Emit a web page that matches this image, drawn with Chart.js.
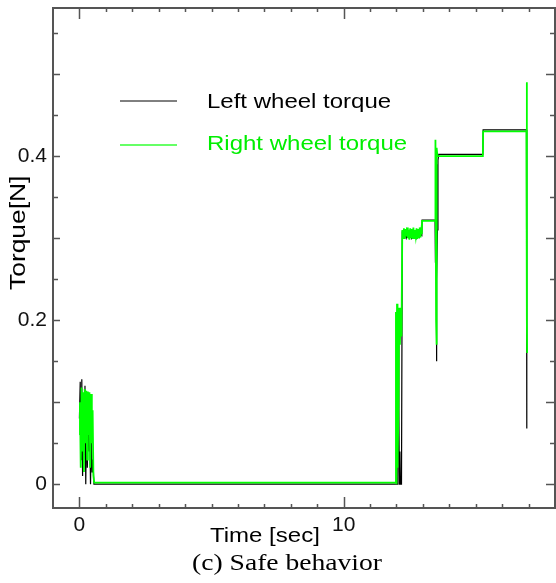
<!DOCTYPE html>
<html>
<head>
<meta charset="utf-8">
<script src="https://cdn.jsdelivr.net/npm/chart.js@4.4.1/dist/chart.umd.min.js"></script>
<style>
  body { margin: 0; background: #fff; }
  canvas { display: block; }
</style>
</head>
<body>
<canvas id="torqueChart" width="556" height="583"></canvas>
<script>
// values (time in sec, torque in N)
const timeLeft = [
  0.00, 0.03, 0.06, 0.09, 0.12, 0.15, 0.18, 0.21, 0.24, 0.27, 0.30, 0.33, 0.36, 0.39, 0.42, 0.45, 0.48, 0.51, 0.55,
  1.5, 3.0, 4.5, 6.0, 7.5, 9.0, 10.5, 11.98,
  12.05, 12.07, 12.09, 12.11, 12.13, 12.15, 12.19, 12.22,
  12.27, 12.32, 12.37, 12.42, 12.47, 12.52, 12.57, 12.62, 12.67, 12.72, 12.77, 12.82, 12.87, 12.92,
  12.96, 12.97, 13.46, 13.47, 13.48, 13.50, 13.51, 13.52, 13.53, 13.55, 13.57, 13.60, 15.27, 15.28, 16.92, 16.93, 16.935
];
const torqueLeft = [
  0.08, 0.125, 0.03, 0.128, 0.01, 0.11, 0.05, 0.12, 0.0, 0.09, 0.02, 0.10, 0.04, 0.07, 0.0, 0.06, 0.015, 0.03, 0.0,
  0, 0, 0, 0, 0, 0, 0, 0,
  0.0, 0.18, 0.09, 0.0, 0.04, 0.0, 0.0, 0.305,
  0.301, 0.306, 0.300, 0.305, 0.301, 0.306, 0.300, 0.305, 0.301, 0.306, 0.300, 0.305, 0.301, 0.304,
  0.303, 0.322, 0.322, 0.27, 0.29, 0.39, 0.20, 0.15, 0.25, 0.31, 0.395, 0.402, 0.402, 0.432, 0.432, 0.16, 0.068
];
const timeRight = [
  0.00, 0.02, 0.05, 0.08, 0.11, 0.14, 0.17, 0.20, 0.23, 0.26, 0.29, 0.32, 0.35, 0.38, 0.41, 0.44, 0.47, 0.50, 0.53, 0.56,
  2.0, 4.0, 6.0, 8.0, 10.0, 11.95,
  11.98, 12.00, 12.02, 12.04, 12.08, 12.10, 12.13, 12.16, 12.19, 12.22,
  12.25, 12.28, 12.31, 12.34, 12.37, 12.40, 12.43, 12.46, 12.49, 12.52, 12.55, 12.58, 12.61, 12.64, 12.67,
  12.70, 12.73, 12.76, 12.79, 12.82, 12.85, 12.88, 12.91, 12.94, 12.96,
  12.97, 13.46, 13.47, 13.48, 13.50, 13.51, 13.52, 13.53, 13.55, 15.27, 15.28, 16.92, 16.93, 16.94, 16.945
];
const torqueRight = [
  0.06, 0.10, 0.02, 0.118, 0.04, 0.112, 0.015, 0.116, 0.05, 0.114, 0.03, 0.113, 0.06, 0.112, 0.02, 0.11, 0.05, 0.09, 0.01, 0.002,
  0.002, 0.002, 0.002, 0.002, 0.002, 0.002,
  0.21, 0.0, 0.22, 0.02, 0.10, 0.215, 0.17, 0.21, 0.18, 0.31,
  0.300, 0.312, 0.299, 0.311, 0.302, 0.313, 0.300, 0.310, 0.298, 0.312, 0.301, 0.311, 0.299, 0.313, 0.300,
  0.310, 0.302, 0.312, 0.299, 0.311, 0.300, 0.313, 0.301, 0.310, 0.305,
  0.321, 0.321, 0.36, 0.42, 0.20, 0.38, 0.17, 0.41, 0.400, 0.400, 0.430, 0.430, 0.49, 0.20, 0.16
];
const seriesNames = ['Left wheel torque', 'Right wheel torque'];
const xTickLabels = [0, 10];
const yTickLabels = [0, 0.2, 0.4];

const toPoints = (ts, vs) => ts.map((t, i) => ({ x: t, y: vs[i] }));

// frame, inward ticks, legend and titles
const decorations = {
  id: 'decorations',
  afterDraw(chart) {
    const { ctx, chartArea: a, scales: { x, y } } = chart;
    ctx.save();
    ctx.strokeStyle = '#555';
    ctx.lineWidth = 2;
    ctx.strokeRect(a.left, a.top, a.right - a.left, a.bottom - a.top);

    ctx.lineWidth = 1.5;
    ctx.beginPath();
    for (let k = 0; k <= 11; k++) {
      const py = Math.round(y.getPixelForValue(k * 0.05)) + 0.5;
      const major = k % 2 === 0;
      ctx.moveTo(a.left, py); ctx.lineTo(a.left + (major ? 7 : 5), py);
      ctx.moveTo(a.right, py); ctx.lineTo(a.right - (major ? 9 : 5), py);
    }
    for (let k = 0; k <= 17; k++) {
      const px = Math.round(x.getPixelForValue(k)) + 0.5;
      const len = k % 10 === 0 ? 11 : 4;
      ctx.moveTo(px, a.bottom); ctx.lineTo(px, a.bottom - len);
      ctx.moveTo(px, a.top); ctx.lineTo(px, a.top + len);
    }
    ctx.stroke();

    // legend
    ctx.lineWidth = 1;
    ctx.strokeStyle = '#000';
    ctx.beginPath(); ctx.moveTo(120, 101); ctx.lineTo(177, 101); ctx.stroke();
    ctx.lineWidth = 2;
    ctx.strokeStyle = '#66ff66';
    ctx.beginPath(); ctx.moveTo(120, 145); ctx.lineTo(177, 145); ctx.stroke();

    const wide = (text, px, py, font, color) => {
      ctx.save();
      ctx.font = font;
      ctx.fillStyle = color;
      ctx.textAlign = 'left';
      ctx.textBaseline = 'alphabetic';
      ctx.translate(px, py);
      ctx.scale(1.2, 1);
      ctx.fillText(text, 0, 0);
      ctx.restore();
    };
    wide(seriesNames[0], 207, 108, '20px "Liberation Sans", Arial, sans-serif', '#000');
    wide(seriesNames[1], 207, 150, '20px "Liberation Sans", Arial, sans-serif', '#00ee00');
    wide('Time [sec]', 210, 542, '20px "Liberation Sans", Arial, sans-serif', '#000');
    wide('(c) Safe behavior', 192, 570, '23px "Liberation Serif", "Times New Roman", serif', '#000');

    ctx.save();
    ctx.font = '22px "Liberation Sans", Arial, sans-serif';
    ctx.fillStyle = '#000';
    ctx.translate(25, 290);
    ctx.rotate(-Math.PI / 2);
    ctx.scale(1.2, 1);
    ctx.fillText('Torque[N]', 0, 0);
    ctx.restore();

    ctx.restore();
  }
};

new Chart(document.getElementById('torqueChart'), {
  type: 'scatter',
  data: {
    datasets: [
      {
        label: seriesNames[0],
        data: toPoints(timeLeft, torqueLeft),
        showLine: true,
        borderColor: '#000',
        borderWidth: 1.2,
        pointRadius: 0,
        tension: 0,
        order: 1
      },
      {
        label: seriesNames[1],
        data: toPoints(timeRight, torqueRight),
        showLine: true,
        borderColor: '#00ff00',
        borderWidth: 1.8,
        pointRadius: 0,
        tension: 0,
        order: 0
      }
    ]
  },
  options: {
    responsive: false,
    animation: false,
    devicePixelRatio: 1,
    layout: { padding: { top: 8, right: 1, left: 0, bottom: 0 } },
    plugins: { legend: { display: false }, tooltip: { enabled: false } },
    scales: {
      x: {
        type: 'linear',
        min: -1,
        max: 18,
        grid: { display: false, drawTicks: false },
        border: { display: false },
        afterFit(scale) {
          scale.height = 75;
          scale.paddingLeft = 0;
          scale.paddingRight = 0;
        },
        afterBuildTicks(scale) { scale.ticks = xTickLabels.map(v => ({ value: v })); },
        ticks: {
          padding: 5,
          color: '#111',
          font: { family: '"Liberation Sans", Arial, sans-serif', size: 21 },
          callback: v => String(v)
        }
      },
      y: {
        type: 'linear',
        min: -0.029,
        max: 0.5805,
        grid: { display: false, drawTicks: false },
        border: { display: false },
        afterFit(scale) {
          scale.width = 53;
          scale.paddingTop = 0;
          scale.paddingBottom = 0;
        },
        afterBuildTicks(scale) { scale.ticks = yTickLabels.map(v => ({ value: v })); },
        ticks: {
          padding: 6,
          color: '#111',
          font: { family: '"Liberation Sans", Arial, sans-serif', size: 21 },
          callback: v => String(v)
        }
      }
    }
  },
  plugins: [decorations]
});
</script>
</body>
</html>
